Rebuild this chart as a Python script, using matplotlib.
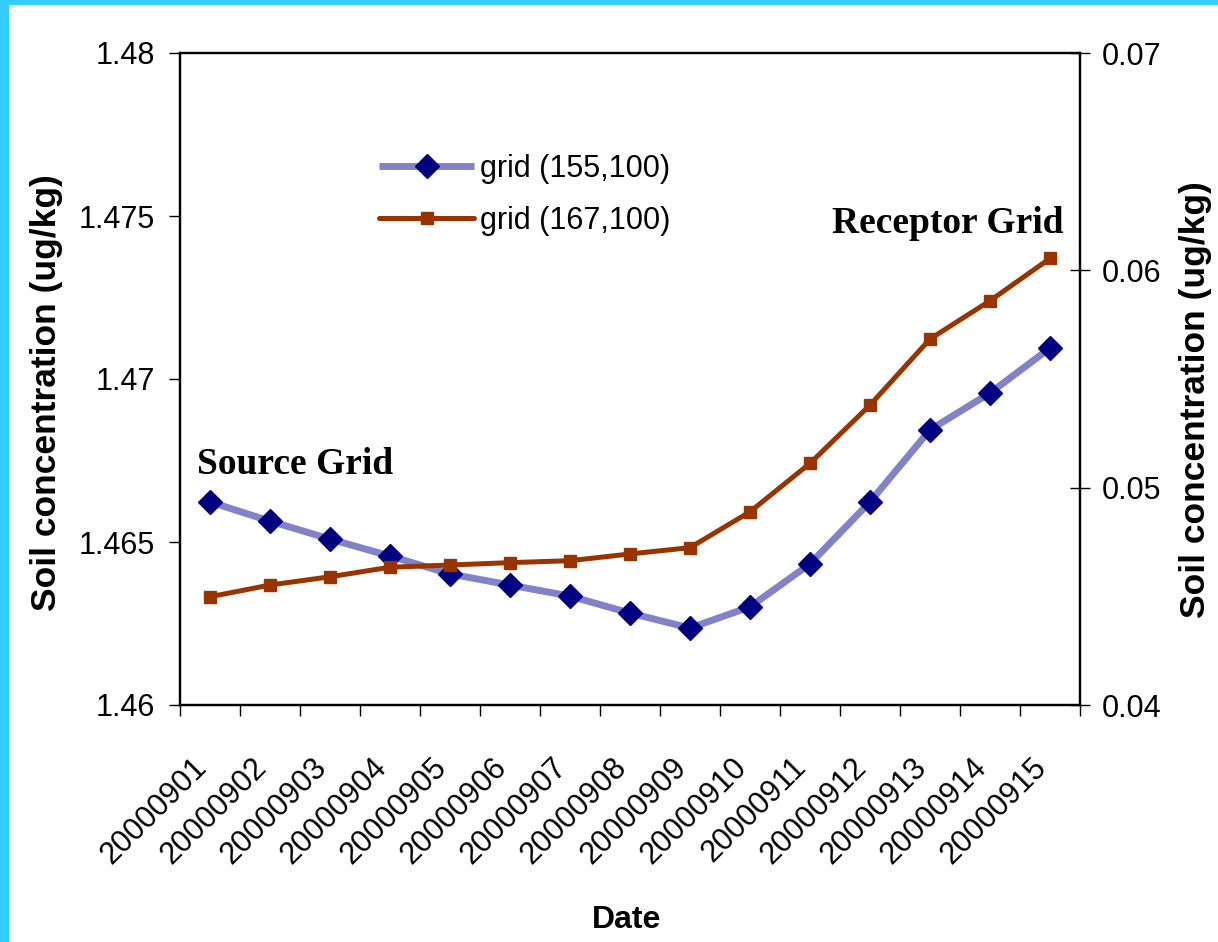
import numpy as np
import matplotlib
matplotlib.use("Agg")
import matplotlib.pyplot as plt
from matplotlib.patches import Rectangle
from matplotlib.lines import Line2D
from matplotlib.transforms import ScaledTranslation

dates = ["20000901", "20000902", "20000903", "20000904", "20000905",
         "20000906", "20000907", "20000908", "20000909", "20000910",
         "20000911", "20000912", "20000913", "20000914", "20000915"]

source_grid = [1.46623, 1.46564, 1.46509, 1.46457, 1.46402,
               1.46368, 1.46334, 1.46282, 1.46236, 1.46301,
               1.46433, 1.46623, 1.46844, 1.46957, 1.47095]

receptor_grid = [0.04498, 0.04552, 0.04590, 0.04634, 0.04644,
                 0.04655, 0.04664, 0.04695, 0.04724, 0.04889,
                 0.05112, 0.05380, 0.05684, 0.05860, 0.06055]

left_ticks = [1.46, 1.465, 1.47, 1.475, 1.48]
left_labels = ["1.46", "1.465", "1.47", "1.475", "1.48"]
right_ticks = [0.04, 0.05, 0.06, 0.07]
right_labels = ["0.04", "0.05", "0.06", "0.07"]

plt.rcParams["font.family"] = ["Liberation Sans", "DejaVu Sans"]

W, H = 1218, 942
fig = plt.figure(figsize=(W / 100, H / 100), dpi=100)

# cyan frame along the top and left edges
fig.patches.append(Rectangle((0, 1 - 4 / H), 1, 4 / H, transform=fig.transFigure,
                             color="#33CCFF", zorder=0))
fig.patches.append(Rectangle((0, 0), 8 / W, 1, transform=fig.transFigure,
                             color="#33CCFF", zorder=0))

left, right, top, bottom = 180, 1080, 53, 705
ax = fig.add_axes([left / W, 1 - bottom / H, (right - left) / W, (bottom - top) / H])
ax2 = ax.twinx()

x = np.arange(len(dates))

blue_line = "#8282C8"
navy = "#000080"
rust = "#993300"

ax.plot(x, source_grid, color=blue_line, lw=5, marker="D", ms=12,
        mfc=navy, mec=navy, zorder=3, solid_joinstyle="round")
ax2.plot(x, receptor_grid, color=rust, lw=3.6, marker="s", ms=8.5,
         mfc=rust, mec=rust, zorder=3)

ax.set_xlim(-0.5, len(dates) - 0.5)
ax.set_ylim(1.46, 1.48)
ax2.set_ylim(0.04, 0.07)

ax.set_yticks(left_ticks)
ax.set_yticklabels(left_labels, fontsize=22)
ax2.set_yticks(right_ticks)
ax2.set_yticklabels(right_labels, fontsize=22)

# category labels, rotated, with their upper right end just left of each category centre
ax.set_xticks(x)
ax.set_xticklabels([])
ax.tick_params(axis="x", which="major", length=0)
label_offset = ScaledTranslation(-8 / 100, -58 / 100, fig.dpi_scale_trans)
for xi, d in zip(x, dates):
    ax.text(xi, 0, d, transform=ax.get_xaxis_transform() + label_offset,
            fontsize=22, rotation=45, ha="right", va="center",
            rotation_mode="anchor", clip_on=False)

ax.set_xticks(np.arange(-0.5, len(dates)), minor=True)
ax.tick_params(axis="x", which="minor", length=8, width=1, direction="out")
ax.tick_params(axis="y", length=8, width=1, direction="out", pad=10)
ax2.tick_params(axis="y", length=14, width=1, direction="inout", pad=9)

for a in (ax, ax2):
    for s in a.spines.values():
        s.set_linewidth(1.6)
        s.set_color("black")

ax.set_xlabel("Date", fontsize=23, fontweight="bold")
ax.xaxis.set_label_coords((627 - left) / (right - left), 1 - (905 - top) / (bottom - top))
ax.set_ylabel("Soil concentration (ug/kg)", fontsize=25.5, fontweight="bold")
ax.yaxis.set_label_coords((63 - left) / (right - left), 1 - (393 - top) / (bottom - top))
ax2.set_ylabel("Soil concentration (ug/kg)", fontsize=25.5, fontweight="bold")
ax2.yaxis.set_label_coords((1179 - left) / (right - left), 1 - (400 - top) / (bottom - top))

# annotations for the two grid cells
serif = ["Liberation Serif", "DejaVu Serif"]
ax.text(0.019, 1 - (464 - top) / (bottom - top), "Source Grid", transform=ax.transAxes,
        fontsize=27, fontweight="bold", family=serif, ha="left", va="center")
ax.text((1063 - left) / (right - left), 1 - (224 - top) / (bottom - top), "Receptor Grid",
        transform=ax.transAxes, fontsize=27, fontweight="bold", family=serif,
        ha="right", va="center")

leg_h1 = Line2D([], [], color=blue_line, lw=5, marker="D", ms=12,
                mfc=navy, mec=navy, solid_capstyle="butt")
leg_h2 = Line2D([], [], color=rust, lw=3.6, marker="s", ms=8.5,
                mfc=rust, mec=rust, solid_capstyle="round")
ax2.legend([leg_h1, leg_h2], ["grid (155,100)", "grid (167,100)"],
           loc="center left", bbox_to_anchor=(364 / W, 1 - 195 / H),
           bbox_transform=fig.transFigure, frameon=False, fontsize=22,
           handlelength=3.1, handletextpad=0.2, labelspacing=0.72,
           borderpad=0, numpoints=1)

fig.savefig("out.png", dpi=100, facecolor="white")
